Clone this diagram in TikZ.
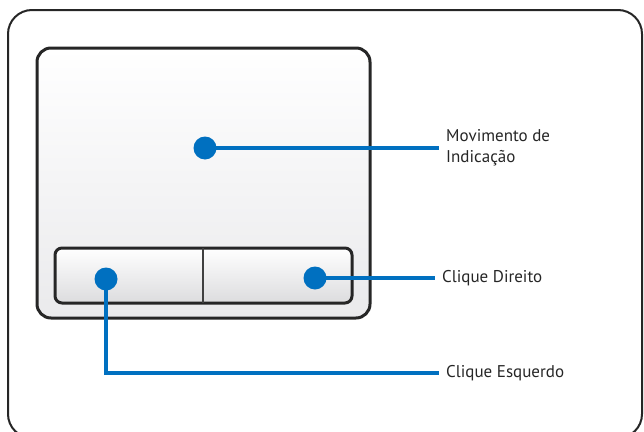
\documentclass[tikz,border=0pt]{standalone}
\usepackage{fontspec}
\setmainfont{PT Sans}
\usepackage{xcolor}
\usetikzlibrary{positioning}

\definecolor{leadblue}{RGB}{0,112,192}
\definecolor{padgray}{RGB}{234,234,236}
\definecolor{btngray}{RGB}{220,220,222}

\pgfdeclarelayer{padlayer}
\pgfdeclarelayer{leadlayer}
\pgfsetlayers{padlayer,leadlayer,main}

\begin{document}
\begin{tikzpicture}[
    x=1pt, y=-1pt,
    every node/.style={font=\fontsize{17}{21}\selectfont, text=black!85},
    touchdot/.style={circle, fill=leadblue, minimum size=23pt, inner sep=0pt},
    lead/.style={draw=leadblue, line width=4.5pt},
    caption/.style={anchor=west, align=left, inner sep=0pt, xshift=7pt}
]
    \useasboundingbox (0,0) rectangle (644,431);
    \clip (0,0) rectangle (644,431);

    % Frame and touch pad
    \begin{pgfonlayer}{padlayer}
    \draw[line width=2pt, black!85, rounded corners=24] (8,10) rectangle (642,438);
    \draw[line width=3pt, black!85, rounded corners=14, top color=white, bottom color=padgray] (37,48) rectangle (370,318);
    \draw[line width=3pt, black!85, rounded corners=7, top color=white, bottom color=btngray] (55,248) rectangle (352,303);
    \draw[line width=2pt, black!75] (203,248) -- (203,303);
    \end{pgfonlayer}

    % Labels
    \coordinate (pointend) at (439,148);
    \coordinate (rightend) at (435,278);
    \coordinate (leftend) at (439,373);
    \node[caption] (pointlabel) at (pointend) {Movimento de\\Indicação};
    \node[caption] (rightlabel) at (rightend) {Clique Direito};
    \node[caption] (leftlabel) at (leftend) {Clique Esquerdo};

    % Dots and leads
    \node[touchdot] (pointdot) at (205,148) {};
    \node[touchdot] (rightdot) at (315,278) {};
    \node[touchdot] (leftdot) at (106,279) {};
    \begin{pgfonlayer}{leadlayer}
    \draw[lead] (pointdot.center) -- (pointend);
    \draw[lead] (rightdot.center) -- (rightend);
    \draw[lead] (leftdot.center) |- (leftend);
    \end{pgfonlayer}
\end{tikzpicture}
\end{document}
